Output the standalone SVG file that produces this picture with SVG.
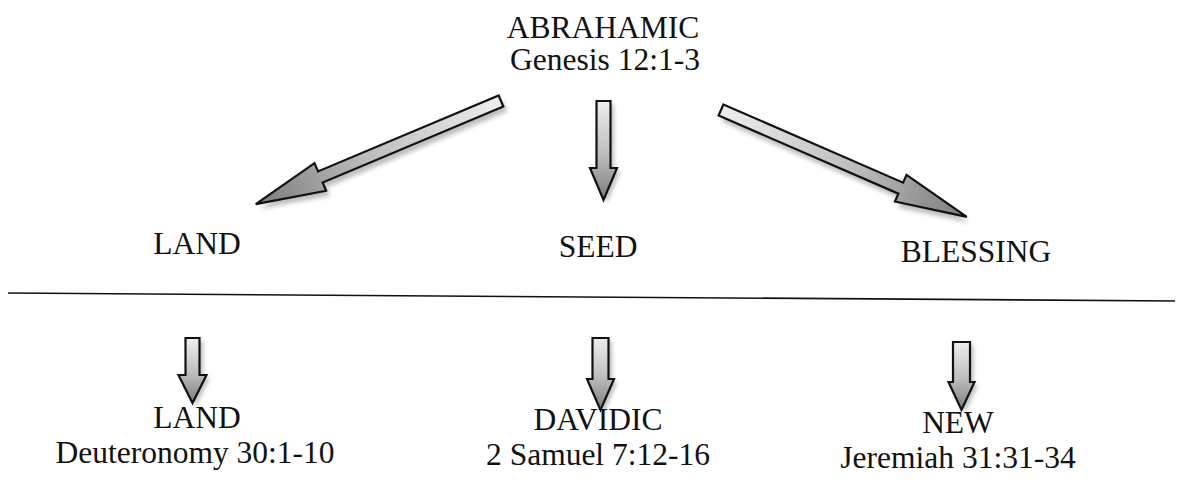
<svg xmlns="http://www.w3.org/2000/svg" width="1180" height="487" viewBox="0 0 1180 487">
<style>
text{font-family:"Liberation Serif","Times New Roman",serif;font-size:31.5px;fill:#111;text-anchor:middle}
.arr{fill:url(#g);stroke:#111;stroke-width:2.2;stroke-linejoin:miter}
.sh{fill:#8a8a8a;opacity:0.55;filter:url(#blur)}
.rule{stroke:#111;stroke-width:1.6;fill:none}
</style>
<defs>
<linearGradient id="g" x1="0" y1="0" x2="1" y2="0">
<stop offset="0" stop-color="#eeeeee"/>
<stop offset="0.55" stop-color="#bcbcbc"/>
<stop offset="1" stop-color="#7c7c7c"/>
</linearGradient>
<filter id="blur" x="-20%" y="-50%" width="140%" height="200%"><feGaussianBlur stdDeviation="2"/></filter>
</defs>
<rect width="1180" height="487" fill="#fff"/>
<g id="connectors">
<line class="rule" x1="8" y1="293" x2="1175" y2="301"/>
<g transform="translate(505,106) rotate(157.2)"><path class="sh" d="M0,-6 L196,-6 L196,-15 L266,0 L196,15 L196,6 L0,6 Z"/></g>
<g transform="translate(501,101) rotate(157.2)"><path class="arr" d="M0,-6 L196,-6 L196,-15 L266,0 L196,15 L196,6 L0,6 Z"/></g>
<g transform="translate(724,116) rotate(23.5)"><path class="sh" d="M0,-6 L196,-6 L196,-14.5 L268,0 L196,14.5 L196,6 L0,6 Z"/></g>
<g transform="translate(721,110) rotate(23.5)"><path class="arr" d="M0,-6 L196,-6 L196,-14.5 L268,0 L196,14.5 L196,6 L0,6 Z"/></g>
<g transform="translate(607,104) rotate(90)"><path class="sh" d="M0,-7 L67,-7 L67,-13.5 L99,0 L67,13.5 L67,7 L0,7 Z"/></g>
<g transform="translate(603.5,101) rotate(90)"><path class="arr" d="M0,-7 L67,-7 L67,-13.5 L99,0 L67,13.5 L67,7 L0,7 Z"/></g>
<g transform="translate(196,341) rotate(90)"><path class="sh" d="M0,-7 L37,-7 L37,-14 L65,0 L37,14 L37,7 L0,7 Z"/></g>
<g transform="translate(192.5,338) rotate(90)"><path class="arr" d="M0,-7 L37,-7 L37,-14 L65,0 L37,14 L37,7 L0,7 Z"/></g>
<g transform="translate(604,341) rotate(90)"><path class="sh" d="M0,-8 L41,-8 L41,-13.5 L72,0 L41,13.5 L41,8 L0,8 Z"/></g>
<g transform="translate(600.5,338) rotate(90)"><path class="arr" d="M0,-8 L41,-8 L41,-13.5 L72,0 L41,13.5 L41,8 L0,8 Z"/></g>
<g transform="translate(965,345) rotate(90)"><path class="sh" d="M0,-8.5 L40,-8.5 L40,-13 L68,0 L40,13 L40,8.5 L0,8.5 Z"/></g>
<g transform="translate(961.5,342) rotate(90)"><path class="arr" d="M0,-8.5 L40,-8.5 L40,-13 L68,0 L40,13 L40,8.5 L0,8.5 Z"/></g>
</g>
<g id="abrahamic"><text x="603" y="38">ABRAHAMIC</text><text x="605" y="70">Genesis 12:1-3</text></g>
<g id="land-top"><text x="197" y="254">LAND</text></g>
<g id="seed"><text x="598" y="257">SEED</text></g>
<g id="blessing"><text x="976" y="262">BLESSING</text></g>
<g id="land-covenant"><text x="197" y="428">LAND</text><text x="195" y="463">Deuteronomy 30:1-10</text></g>
<g id="davidic"><text x="598" y="430">DAVIDIC</text><text x="598" y="465">2 Samuel 7:12-16</text></g>
<g id="new"><text x="958" y="433">NEW</text><text x="958" y="468">Jeremiah 31:31-34</text></g>
</svg>
